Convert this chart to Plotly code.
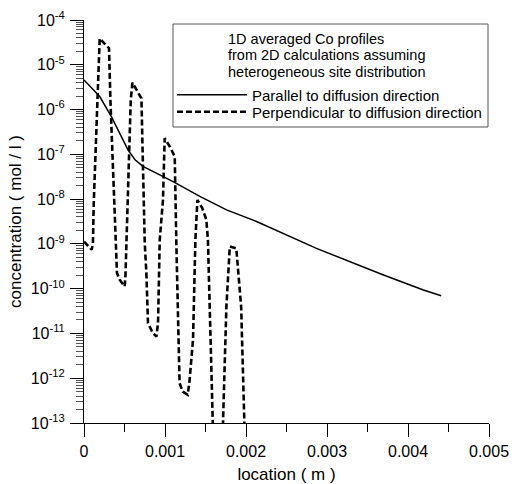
import plotly.graph_objects as go

# ---- data (x in metres, log10 of concentration in mol/l) ----
par_x = [0.0, 0.000194, 0.000338, 0.000543, 0.00063, 0.000728, 0.0011, 0.00143,
         0.00176, 0.00213, 0.00287, 0.00369, 0.00419, 0.00441]
par_logc = [-5.34, -5.71, -6.16, -6.90, -7.12, -7.27, -7.61, -7.94,
            -8.24, -8.50, -9.10, -9.69, -10.03, -10.16]

perp_x = [0.0, 0.00005, 0.000095, 0.00011, 0.00012, 0.000144, 0.000165, 0.000181, 0.000194,
          0.00025, 0.000309, 0.000326, 0.00037, 0.000388, 0.000407, 0.00044, 0.000502,
          0.000512, 0.000523, 0.000556, 0.000577, 0.000598, 0.00065, 0.000709,
          0.000728, 0.00075, 0.00077, 0.00079, 0.00085, 0.000894,
          0.000914, 0.000935, 0.000975, 0.000984, 0.000996, 0.00106, 0.00112,
          0.00114, 0.00116, 0.00118, 0.00122, 0.00128,
          0.0013, 0.001346, 0.001375, 0.0014, 0.00146, 0.00151,
          0.00153, 0.00155, 0.00159, 0.00162, 0.00165, 0.00169,
          0.001716, 0.001758, 0.00179, 0.0018, 0.00188,
          0.00194, 0.00198, 0.00201]
perp_logc = [-8.95, -9.05, -9.13, -9.0, -8.1, -6.9, -5.8, -4.9, -4.41,
             -4.52, -4.63, -5.79, -8.02, -8.98, -9.65, -9.80, -9.95,
             -9.7, -8.98, -7.27, -5.79, -5.40, -5.55, -5.75,
             -7.27, -8.98, -9.65, -10.77, -10.99, -11.07,
             -10.76, -8.91, -8.02, -7.27, -6.64, -6.83, -7.05,
             -8.98, -10.4, -12.11, -12.30, -12.37,
             -12.11, -11.14, -8.91, -8.02, -8.2, -8.46,
             -8.91, -10.4, -13.0, -14.0, -14.3, -14.0,
             -13.0, -10.4, -9.13, -9.06, -9.10,
             -10.4, -13.0, -14.0]

x_tickvals = [0, 0.001, 0.002, 0.003, 0.004, 0.005]
x_ticktext = ["0", "0.001", "0.002", "0.003", "0.004", "0.005"]
y_exponents = [-13, -12, -11, -10, -9, -8, -7, -6, -5, -4]

legend_title = ["1D averaged Co profiles", "from 2D calculations assuming",
                "heterogeneous site distribution"]
names = ["Parallel to diffusion direction", "Perpendicular to diffusion direction"]

FONT = "Liberation Sans, Arial, sans-serif"
W, H = 512, 484
ML, MR, MT, MB = 84, 23, 20, 61
PW, PH = W - ML - MR, H - MT - MB


def px(xp):
    return (xp - ML) / PW


def py(yp):
    return (H - MB - yp) / PH


fig = go.Figure()
fig.add_trace(go.Scatter(x=par_x, y=[10 ** v for v in par_logc], mode="lines",
                         name=names[0], legend="legend",
                         line=dict(color="black", width=1.5)))
fig.add_trace(go.Scatter(x=perp_x, y=[10 ** v for v in perp_logc], mode="lines",
                         name=names[1], legend="legend2",
                         line=dict(color="black", width=2.6, dash="6px,3px")))

y_tickvals = [10.0 ** e for e in y_exponents]
y_ticktext = ["10<sup>%d</sup>" % e for e in y_exponents]
y_minor = [m * 10.0 ** e for e in y_exponents[:-1] for m in range(2, 10)]

fig.update_xaxes(range=[0, 0.005], tickvals=x_tickvals, ticktext=x_ticktext,
                 showline=True, linecolor="black", linewidth=1, mirror=False,
                 showgrid=False, zeroline=False, ticks="outside", ticklen=13,
                 tickcolor="black", tickwidth=1, ticklabelstandoff=1,
                 tickfont=dict(family=FONT, size=16, color="black"),
                 minor=dict(ticks="outside", ticklen=8, dtick=0.0005, tick0=0,
                            tickcolor="black", showgrid=False),
                 title=dict(text="location ( m )", standoff=9,
                            font=dict(family=FONT, size=17, color="black")))
fig.update_yaxes(type="log", range=[-13, -4], tickvals=y_tickvals, ticktext=y_ticktext,
                 showline=True, linecolor="black", linewidth=1, mirror=False,
                 showgrid=False, zeroline=False, ticks="outside", ticklen=13,
                 tickcolor="black", tickwidth=1, ticklabelstandoff=2,
                 tickfont=dict(family=FONT, size=16, color="black"),
                 minor=dict(ticks="outside", ticklen=7, tickvals=y_minor,
                            tickcolor="#555", showgrid=False),
                 title=dict(text="concentration ( mol / l )", standoff=4,
                            font=dict(family=FONT, size=17, color="black")))

leg_common = dict(xanchor="left", yanchor="middle", bgcolor="rgba(0,0,0,0)",
                  borderwidth=0, itemwidth=70,
                  font=dict(family=FONT, size=15, color="black"))

annotations = [dict(xref="paper", yref="paper", x=px(227), y=py(yc), text=t,
                    showarrow=False, xanchor="left", yanchor="middle", borderpad=0,
                    font=dict(family=FONT, size=14.5, color="black"))
               for t, yc in zip(legend_title, [38.5, 55, 71.5])]

fig.update_layout(
    width=W, height=H,
    margin=dict(l=ML, r=MR, t=MT, b=MB, autoexpand=False),
    paper_bgcolor="white", plot_bgcolor="white",
    font=dict(family=FONT, size=15, color="black"),
    showlegend=True,
    legend=dict(x=px(172), y=py(95), **leg_common),
    legend2=dict(x=px(172), y=py(112), **leg_common),
    shapes=[dict(type="rect", xref="paper", yref="paper",
                 x0=px(173), x1=px(488), y0=py(127), y1=py(24),
                 line=dict(color="#555", width=1), fillcolor="white", layer="above")],
    annotations=annotations,
)
fig.write_html("out.html")
